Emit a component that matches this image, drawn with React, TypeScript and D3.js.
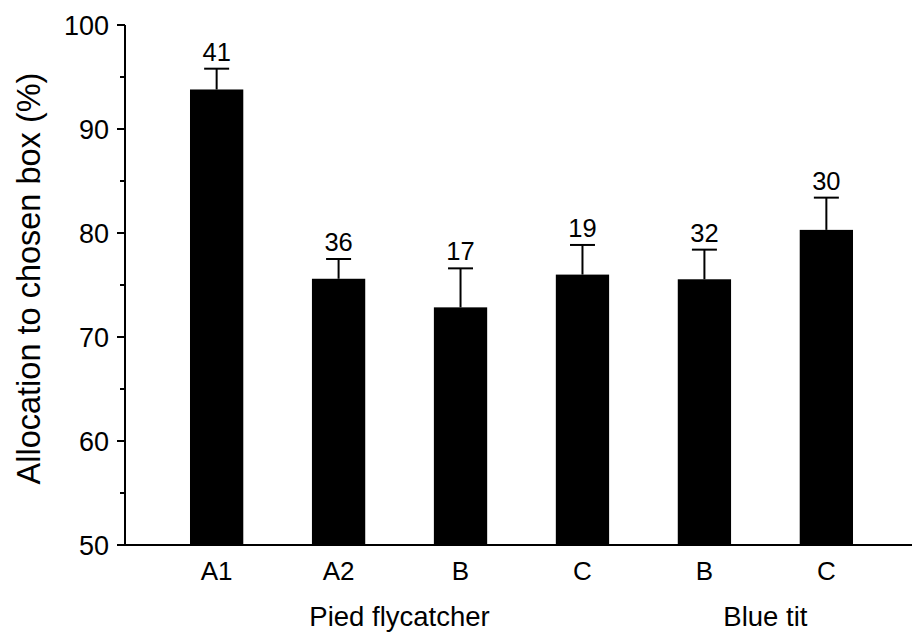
import React from "react";
import * as d3 from "d3";

// Allocation to the chosen nest box, by species and experiment
const categories = ["A1", "A2", "B", "C", "B", "C"];
const means = [93.8, 75.6, 72.85, 76.0, 75.55, 80.3];
const errors = [2.0, 1.9, 3.75, 2.85, 2.85, 3.1];
const sampleSizes = [41, 36, 17, 19, 32, 30];
const groups = [
  { label: "Pied flycatcher", from: 0, to: 3 },
  { label: "Blue tit", from: 4, to: 5 },
];
const majorTicks = [50, 60, 70, 80, 90, 100];
const minorTicks = [55, 65, 75, 85, 95];
const yTitle = "Allocation to chosen box (%)";

const W = 912;
const H = 634;
const FONT = "'Liberation Sans', Arial, Helvetica, sans-serif";

export default function App() {
  const x = d3
    .scaleBand<number>()
    .domain(d3.range(categories.length))
    .range([125, 918])
    .paddingInner(0.563)
    .paddingOuter(0.533);
  const y = d3.scaleLinear().domain([50, 100]).range([545, 25]);
  const bw = x.bandwidth();
  const cx = (i: number) => (x(i) as number) + bw / 2;
  const axisX = x.range()[0];

  return (
    <svg
      width={W}
      height={H}
      style={{ position: "absolute", left: 0, top: 0, background: "#fff" }}
      fontFamily={FONT}
    >
      {/* bars */}
      {means.map((m, i) => (
        <rect
          key={`bar${i}`}
          x={x(i)}
          y={y(m)}
          width={bw}
          height={y(50) - y(m)}
          fill="#000"
        />
      ))}
      {/* upper error bars */}
      {means.map((m, i) => (
        <g key={`err${i}`} stroke="#000" strokeWidth={2}>
          <line x1={cx(i)} x2={cx(i)} y1={y(m)} y2={y(m + errors[i])} />
          <line
            x1={cx(i) - 12.5}
            x2={cx(i) + 12.5}
            y1={y(m + errors[i])}
            y2={y(m + errors[i])}
          />
        </g>
      ))}
      {/* sample sizes */}
      {means.map((m, i) => (
        <text
          key={`n${i}`}
          x={cx(i)}
          y={y(m + errors[i]) - 8}
          textAnchor="middle"
          fontSize={25.5}
          fill="#000"
        >
          {sampleSizes[i]}
        </text>
      ))}
      {/* y axis */}
      <line x1={axisX} x2={axisX} y1={y(100)} y2={y(50) + 1} stroke="#000" strokeWidth={2} />
      {majorTicks.map((t) => (
        <g key={`mt${t}`}>
          <line x1={axisX - 8} x2={axisX} y1={y(t)} y2={y(t)} stroke="#000" strokeWidth={2} />
          <text
            x={axisX - 16}
            y={y(t)}
            dy="0.36em"
            textAnchor="end"
            fontSize={27}
            fill="#000"
          >
            {t}
          </text>
        </g>
      ))}
      {minorTicks.map((t) => (
        <line key={`nt${t}`} x1={axisX - 5} x2={axisX} y1={y(t)} y2={y(t)} stroke="#000" strokeWidth={2} />
      ))}
      {/* x axis */}
      <line x1={axisX - 1} x2={W} y1={y(50)} y2={y(50)} stroke="#000" strokeWidth={2} />
      {categories.map((c, i) => (
        <text key={`c${i}`} x={cx(i)} y={580} textAnchor="middle" fontSize={26} fill="#000">
          {c}
        </text>
      ))}
      {groups.map((g) => (
        <text
          key={g.label}
          x={(cx(g.from) + cx(g.to)) / 2}
          y={626}
          textAnchor="middle"
          fontSize={27.5}
          fill="#000"
        >
          {g.label}
        </text>
      ))}
      {/* y title */}
      <text
        transform={`translate(40, ${(72 + 485) / 2}) rotate(-90)`}
        textAnchor="middle"
        fontSize={32.5}
        fill="#000"
      >
        {yTitle}
      </text>
    </svg>
  );
}
